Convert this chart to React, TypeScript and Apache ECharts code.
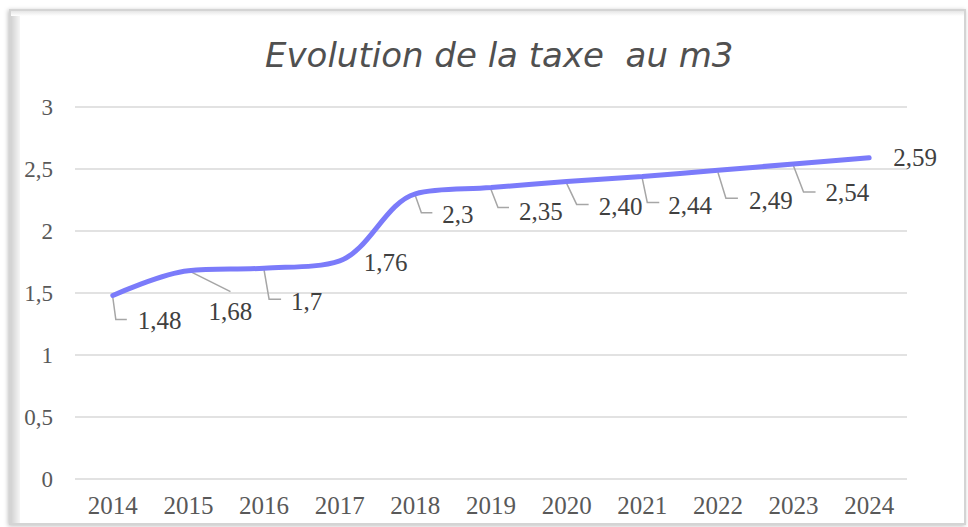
import React, { useEffect, useRef } from "react";
import * as echarts from "echarts";

const years = ["2014", "2015", "2016", "2017", "2018", "2019", "2020", "2021", "2022", "2023", "2024"];
const taxValues = [1.48, 1.68, 1.7, 1.76, 2.3, 2.35, 2.4, 2.44, 2.49, 2.54, 2.59];
const valueLabels = ["1,48", "1,68", "1,7", "1,76", "2,3", "2,35", "2,40", "2,44", "2,49", "2,54", "2,59"];
const yTickLabels = ["0", "0,5", "1", "1,5", "2", "2,5", "3"];
const titleText = "Evolution de la taxe  au m3";

// callout layout per label: leader points relative to the data point, label position, align
type Callout = { pts: number[][] | null; lx: number; ly: number; align: "left" | "center" };
const callouts: Callout[] = [
  { pts: [[0, 2], [3, 24], [14, 24]], lx: 25, ly: 25, align: "left" },
  { pts: [[0, 0], [42, 21]], lx: 42, ly: 41, align: "center" },
  { pts: [[0, 2], [5, 31], [17, 31]], lx: 27, ly: 33, align: "left" },
  { pts: null, lx: 24, ly: 2, align: "left" },
  { pts: [[0, 2], [6, 19], [17, 19]], lx: 27, ly: 21, align: "left" },
  { pts: [[0, 2], [7, 20], [18, 20]], lx: 28, ly: 24, align: "left" },
  { pts: [[0, 2], [10, 23], [22, 23]], lx: 32, ly: 25, align: "left" },
  { pts: [[0, 2], [5, 26], [17, 26]], lx: 26, ly: 29, align: "left" },
  { pts: [[0, 2], [8, 28], [20, 28]], lx: 31, ly: 30, align: "left" },
  { pts: [[0, 2], [10, 28], [22, 28]], lx: 32, ly: 28, align: "left" },
  { pts: null, lx: 24, ly: 0, align: "left" },
];

export default function App() {
  const ref = useRef<HTMLDivElement>(null);
  useEffect(() => {
    if (!ref.current) return;
    const chart = echarts.init(ref.current, undefined, { renderer: "svg" });
    const serif = "'Liberation Serif', 'Times New Roman', serif";
    chart.setOption({
      animation: false,
      backgroundColor: "#ffffff",
      graphic: [
        {
          type: "rect",
          z: -10,
          shape: { x: 10, y: 10, width: 955, height: 514 },
          style: { fill: "#ffffff", stroke: "#d4d4d4", lineWidth: 2, shadowBlur: 4, shadowColor: "rgba(0,0,0,0.25)", shadowOffsetX: -1, shadowOffsetY: 1 },
        },
        {
          type: "rect",
          z: -9,
          shape: { x: 11, y: 11, width: 9, height: 512 },
          style: {
            fill: new echarts.graphic.LinearGradient(0, 0, 1, 0, [
              { offset: 0, color: "#d2d2d2" },
              { offset: 1, color: "#f6f6f6" },
            ]),
          },
        },
        {
          type: "rect",
          z: -9,
          shape: { x: 11, y: 11, width: 953, height: 5 },
          style: {
            fill: new echarts.graphic.LinearGradient(0, 0, 0, 1, [
              { offset: 0, color: "#e6e6e6" },
              { offset: 1, color: "#ffffff" },
            ]),
          },
        },
        {
          type: "text",
          left: 265,
          top: 38,
          style: {
            text: titleText,
            font: "italic 34px 'DejaVu Sans', sans-serif",
            fill: "#505050",
          },
        },
      ],
      grid: { left: 75, right: 61, top: 107, bottom: 48, containLabel: false },
      xAxis: {
        type: "category",
        data: years,
        boundaryGap: true,
        axisLine: { show: false },
        axisTick: { show: false },
        axisLabel: { color: "#595959", fontFamily: serif, fontSize: 25, margin: 14 },
      },
      yAxis: {
        type: "value",
        min: 0,
        max: 3,
        interval: 0.5,
        axisLine: { show: false },
        axisTick: { show: false },
        splitLine: { lineStyle: { color: "#d9d9d9", width: 1.5 } },
        axisLabel: {
          color: "#595959",
          fontFamily: serif,
          fontSize: 23,
          margin: 22,
          formatter: (_v: number, i: number) => yTickLabels[i],
        },
      },
      series: [
        {
          type: "line",
          data: taxValues,
          smooth: 0.34,
          symbol: "none",
          lineStyle: { color: "#7b7bfa", width: 5, cap: "round" },
          z: 3,
        },
        {
          type: "custom",
          data: taxValues.map((v, i) => [i, v]),
          encode: { x: 0, y: 1 },
          clip: false,
          z: 2,
          renderItem: (params: any, api: any) => {
            const i = params.dataIndex;
            const p = api.coord([api.value(0), api.value(1)]);
            const c = callouts[i];
            const children: any[] = [];
            if (c.pts) {
              children.push({
                type: "polyline",
                shape: { points: c.pts.map((q) => [p[0] + q[0], p[1] + q[1]]) },
                style: { stroke: "#a6a6a6", lineWidth: 1.5, fill: "none" },
              });
            }
            children.push({
              type: "text",
              x: p[0] + c.lx,
              y: p[1] + c.ly,
              style: {
                text: valueLabels[i],
                font: "25px " + serif,
                fill: "#404040",
                align: c.align,
                verticalAlign: "middle",
              },
              z2: 5,
            });
            return { type: "group", children };
          },
        },
      ],
    });
    return () => chart.dispose();
  }, []);
  return <div ref={ref} style={{ position: "absolute", left: 0, top: 0, width: 968, height: 527 }} />;
}
